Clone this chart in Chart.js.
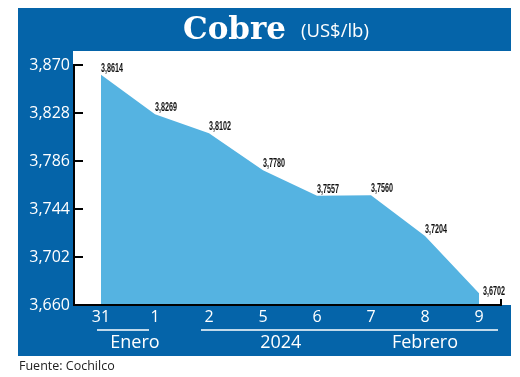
<!DOCTYPE html>
<html>
<head>
<meta charset="utf-8">
<script src="https://cdn.jsdelivr.net/npm/chart.js@4.4.1/dist/chart.umd.min.js"></script>
<style>
  html, body { margin: 0; padding: 0; background: #fff; }
  canvas { display: block; }
</style>
</head>
<body>
<canvas id="cobreChart" width="520" height="377"></canvas>
<script>
// datos del grafico
const dias = ["31", "1", "2", "5", "6", "7", "8", "9"];
const precios = [3.8614, 3.8269, 3.8102, 3.7780, 3.7557, 3.7560, 3.7204, 3.6702];
const ticksY = [3.660, 3.702, 3.744, 3.786, 3.828, 3.870];
const meses = ["Enero", "2024", "Febrero"];

const AZUL = "#0564a9";
const CELESTE = "#55b3e1";

const fmt = (v, d) => v.toFixed(d).replace(".", ",");

const marco = {
    id: "marco",
    beforeDraw(chart) {
        const c = chart.ctx;
        c.save();
        c.fillStyle = AZUL;
        c.fillRect(18, 8, 493, 348);
        c.fillStyle = "#fff";
        c.fillRect(73, 51, 438, 254);
        c.restore();
    },
    afterDraw(chart) {
        const c = chart.ctx;
        const x = chart.scales.x, y = chart.scales.y;
        const area = chart.chartArea;
        c.save();

        // titulo
        c.fillStyle = "#fff";
        c.textBaseline = "alphabetic";
        c.font = 'bold 31px "DejaVu Serif", serif';
        c.textAlign = "left";
        c.fillText("Cobre", 183, 39);
        c.font = '18.5px "Open Sans", sans-serif';
        c.fillText("(US$/lb)", 301, 37);

        // ejes
        c.strokeStyle = "#000";
        c.lineWidth = 2;
        const yTop = y.getPixelForValue(ticksY[ticksY.length - 1]);
        const yBot = y.getPixelForValue(ticksY[0]);
        c.beginPath();
        c.moveTo(74, yTop);
        c.lineTo(74, yBot + 1);
        c.stroke();
        ticksY.forEach(t => {
            const py = y.getPixelForValue(t);
            c.beginPath();
            c.moveTo(73, py);
            c.lineTo(83, py);
            c.stroke();
        });
        c.beginPath();
        c.moveTo(74, area.bottom);
        c.lineTo(x.getPixelForValue(dias.length - 1) + 22, area.bottom);
        c.lineTo(x.getPixelForValue(dias.length - 1) + 22, area.bottom - 6);
        c.stroke();

        // meses
        const p = i => x.getPixelForValue(i);
        const sp = p(1) - p(0);
        c.strokeStyle = "#fff";
        c.lineWidth = 1.5;
        c.beginPath();
        c.moveTo(p(0) - 4, 330); c.lineTo(p(1) - 6, 330);
        c.moveTo(p(2) - 8, 330); c.lineTo(p(7) + 19, 330);
        c.stroke();
        c.fillStyle = "#fff";
        c.font = '18px "Open Sans", sans-serif';
        c.textAlign = "center";
        c.textBaseline = "middle";
        c.fillText(meses[0], (p(0) + p(1)) / 2 + 7, 343);
        c.fillText(meses[1], p(3) + sp * 0.33, 343);
        c.fillText(meses[2], p(6), 343);

        // fuente
        c.fillStyle = "#222";
        c.font = '12.5px "Open Sans", sans-serif';
        c.textAlign = "left";
        c.fillText("Fuente: Cochilco", 19, 366);

        // etiquetas de datos
        const meta = chart.getDatasetMeta(0);
        c.fillStyle = "#111";
        c.font = 'bold 12px "Liberation Sans", sans-serif';
        c.textBaseline = "alphabetic";
        meta.data.forEach((pt, i) => {
            let lx = pt.x, ly = pt.y - 3;
            if (i === meta.data.length - 1) { lx = pt.x + 4; ly = pt.y + 2; }
            c.save();
            c.translate(lx, ly);
            c.scale(0.6, 1);
            c.fillText(fmt(precios[i], 4), 0, 0);
            c.restore();
        });
        c.restore();
    }
};

new Chart(document.getElementById("cobreChart"), {
    type: "line",
    data: {
        labels: dias,
        datasets: [{
            data: precios,
            fill: "start",
            backgroundColor: CELESTE,
            borderWidth: 0,
            pointRadius: 0,
            tension: 0
        }]
    },
    options: {
        responsive: false,
        devicePixelRatio: 1,
        animation: false,
        layout: { padding: { top: 65, right: 14, left: 0, bottom: 0 } },
        plugins: { legend: { display: false }, tooltip: { enabled: false } },
        scales: {
            x: {
                offset: true,
                grid: { display: false, drawTicks: false },
                border: { display: false },
                ticks: {
                    color: "#fff",
                    padding: 3,
                    font: { family: "Open Sans", size: 16 },
                    maxRotation: 0
                },
                afterFit(scale) { scale.height = 72; }
            },
            y: {
                min: 3.66,
                max: 3.87,
                grid: { display: false, drawTicks: false },
                border: { display: false },
                afterBuildTicks(scale) { scale.ticks = ticksY.map(v => ({ value: v })); },
                ticks: {
                    color: "#fff",
                    padding: 4,
                    font: { family: "Open Sans", size: 16 },
                    callback: v => fmt(v, 3)
                },
                afterFit(scale) { scale.width = 74; }
            }
        }
    },
    plugins: [marco]
});
</script>
</body>
</html>
